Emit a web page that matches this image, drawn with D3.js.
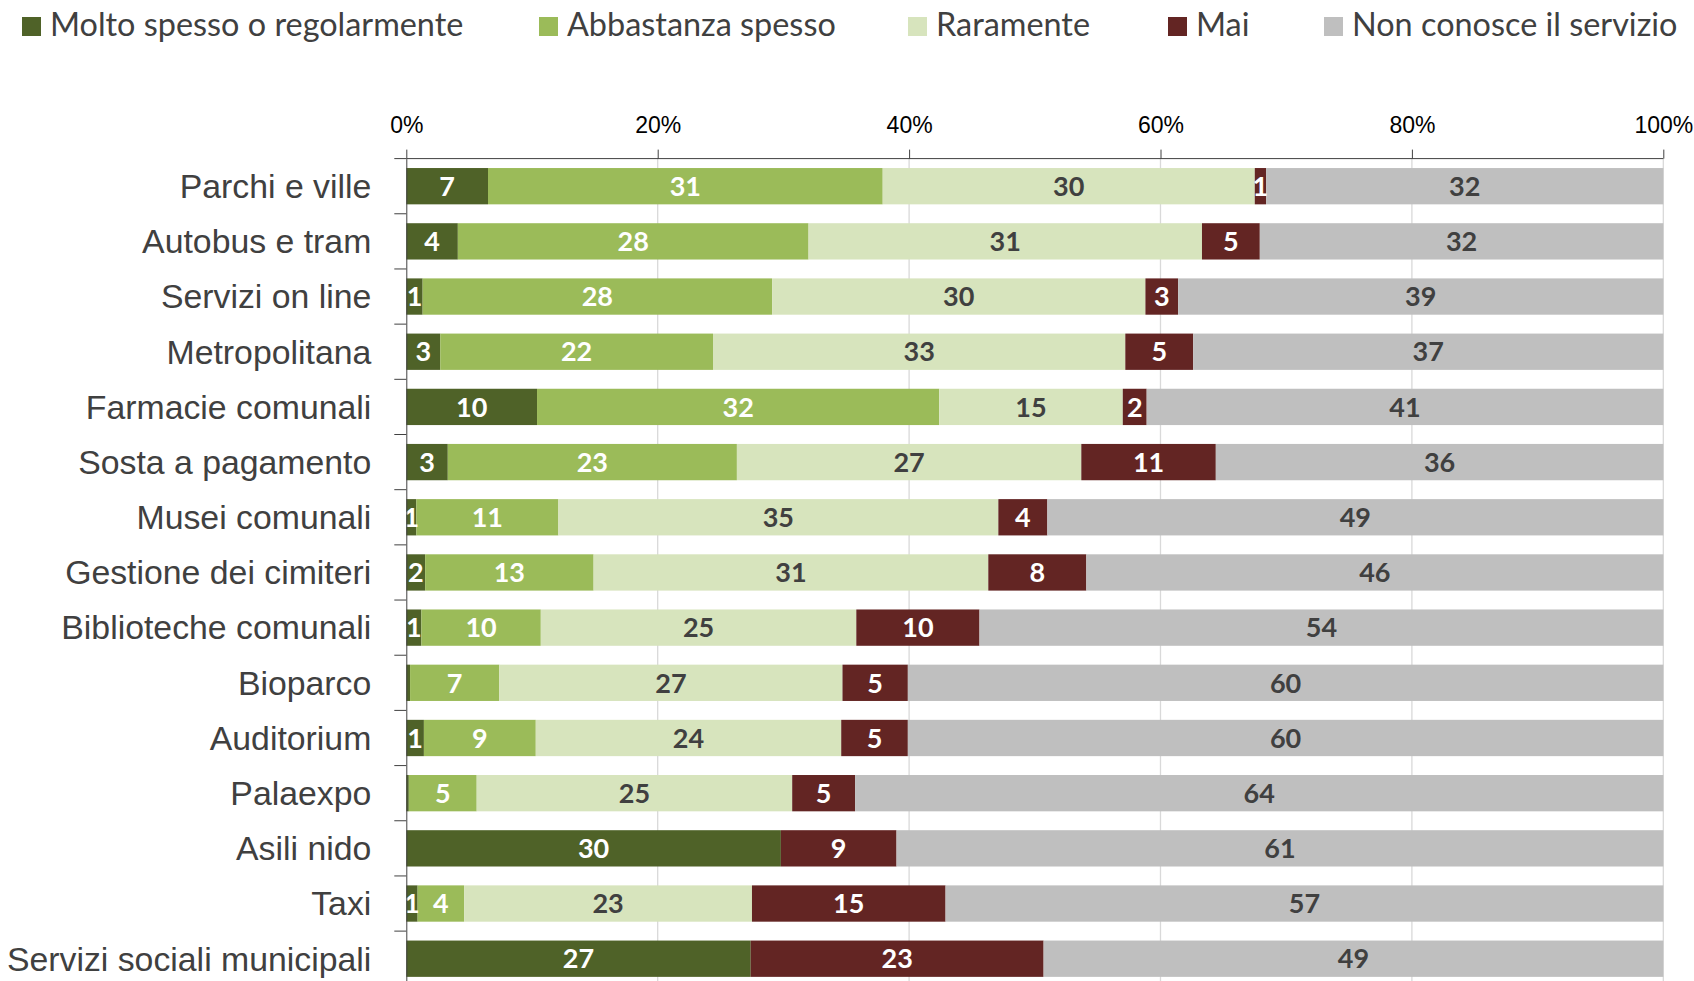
<!DOCTYPE html>
<html>
<head>
<meta charset="utf-8">
<script src="https://cdn.jsdelivr.net/npm/d3@7"></script>
<style>
  body { margin: 0; background: #fff; }
  svg { font-family: Lato, "Open Sans", sans-serif; }
</style>
</head>
<body>
<div id="chart"></div>
<script>
// Categories (top to bottom)
const categories = ["Parchi e ville", "Autobus e tram", "Servizi on line", "Metropolitana",
  "Farmacie comunali", "Sosta a pagamento", "Musei comunali", "Gestione dei cimiteri",
  "Biblioteche comunali", "Bioparco", "Auditorium", "Palaexpo", "Asili nido", "Taxi",
  "Servizi sociali municipali"];

// Series values (%)
const molto      = [6.5, 4.1, 1.3, 2.7, 10.4, 3.3, 0.8, 1.5, 1.2, 0.3, 1.4, 0.2, 29.8, 0.9, 27.4];
const abbastanza = [31.4, 27.9, 27.8, 21.7, 32.0, 23.0, 11.3, 13.4, 9.5, 7.1, 8.9, 5.4, 0, 3.7, 0];
const raramente  = [29.6, 31.3, 29.7, 32.8, 14.6, 27.4, 35.0, 31.4, 25.1, 27.3, 24.3, 25.1, 0, 22.9, 0];
const mai        = [0.9, 4.6, 2.6, 5.4, 1.9, 10.7, 3.9, 7.8, 9.8, 5.2, 5.3, 5.0, 9.2, 15.4, 23.3];
const nonConosce = [31.6, 32.1, 38.6, 37.4, 41.1, 35.6, 49.0, 45.9, 54.4, 60.1, 60.1, 64.3, 61.0, 57.1, 49.3];

const seriesNames = ["Molto spesso o regolarmente", "Abbastanza spesso", "Raramente", "Mai", "Non conosce il servizio"];
const seriesValues = [molto, abbastanza, raramente, mai, nonConosce];
const tickValues = [0, 20, 40, 60, 80, 100];

const colors = ["#4f6228", "#9bbb59", "#d7e4bd", "#632523", "#bfbfbf"];
const labelColors = ["#ffffff", "#ffffff", "#404040", "#ffffff", "#404040"];

// Dimensions
const width = 1694, height = 981;
const plotLeft = 406.3, plotRight = 1663.3, plotTop = 158.6, plotBottom = 986.3;

const svg = d3.select("#chart").append("svg")
  .attr("width", width)
  .attr("height", height);

// Scales
const x = d3.scaleLinear().domain([0, 100]).range([plotLeft, plotRight]);
const y = d3.scaleBand().domain(categories).range([plotTop, plotBottom])
  .paddingInner(0.342).paddingOuter(0.171);

// Gridlines
svg.append("g")
  .selectAll("line")
  .data(tickValues.slice(1))
  .enter().append("line")
  .attr("x1", d => x(d)).attr("x2", d => x(d))
  .attr("y1", plotTop).attr("y2", plotBottom)
  .attr("stroke", "#d9d9d9")
  .attr("stroke-width", 1.3);

// Stack data
const rows = categories.map((c, i) => {
  const r = { cat: c };
  seriesNames.forEach((s, k) => r[s] = seriesValues[k][i]);
  return r;
});
const stacked = d3.stack().keys(seriesNames)(rows);

// Bars
const layers = svg.append("g")
  .selectAll("g")
  .data(stacked)
  .enter().append("g")
  .attr("fill", (d, i) => colors[i]);

layers.selectAll("rect")
  .data(d => d)
  .enter().append("rect")
  .attr("x", d => x(d[0]))
  .attr("y", d => y(d.data.cat))
  .attr("width", d => x(d[1]) - x(d[0]))
  .attr("height", y.bandwidth());

// Data labels
stacked.forEach((layer, k) => {
  svg.append("g")
    .selectAll("text")
    .data(layer.filter(d => Math.round(d[1] - d[0]) > 0))
    .enter().append("text")
    .attr("x", d => (x(d[0]) + x(d[1])) / 2)
    .attr("y", d => y(d.data.cat) + y.bandwidth() / 2)
    .attr("dy", "0.36em")
    .attr("text-anchor", "middle")
    .style("font-size", "27px")
    .style("font-weight", "bold")
    .attr("fill", labelColors[k])
    .text(d => Math.round(d[1] - d[0]));
});

// Top axis
const xAxis = svg.append("g")
  .attr("transform", "translate(0," + plotTop + ")")
  .call(d3.axisTop(x).tickValues(tickValues).tickFormat(d => d + "%").tickSize(9).tickPadding(17));
xAxis.select(".domain").attr("stroke", "#404040").attr("d", `M${plotLeft},0H${plotRight}`);
xAxis.selectAll(".tick line").attr("stroke", "#404040");
xAxis.selectAll("text").style("font-size", "23px").attr("fill", "#000");

// Left axis
const yAxis = svg.append("g")
  .attr("transform", "translate(" + plotLeft + ",0)")
  .call(d3.axisLeft(y).tickSize(0).tickPadding(35));
yAxis.select(".domain").attr("stroke", "#404040");
yAxis.selectAll("text").style("font-size", "33.8px").attr("fill", "#404040").attr("dy", "0.35em");

// Category boundary ticks
const step = y.step();
svg.append("g")
  .selectAll("line")
  .data(categories)
  .enter().append("line")
  .attr("x1", plotLeft - 12).attr("x2", plotLeft)
  .attr("y1", d => y(d) - step * y.paddingInner() / 2)
  .attr("y2", d => y(d) - step * y.paddingInner() / 2)
  .attr("stroke", "#404040");

// Legend
const legendX = [22, 539, 908, 1168, 1324];
const legend = svg.append("g")
  .selectAll("g")
  .data(seriesNames)
  .enter().append("g")
  .attr("transform", (d, i) => "translate(" + legendX[i] + ",0)");
legend.append("rect")
  .attr("x", 0).attr("y", 17)
  .attr("width", 19).attr("height", 19)
  .attr("fill", (d, i) => colors[i]);
legend.append("text")
  .attr("x", 28).attr("y", 36)
  .style("font-size", "32.4px")
  .attr("fill", "#404040")
  .text(d => d);
</script>
</body>
</html>
